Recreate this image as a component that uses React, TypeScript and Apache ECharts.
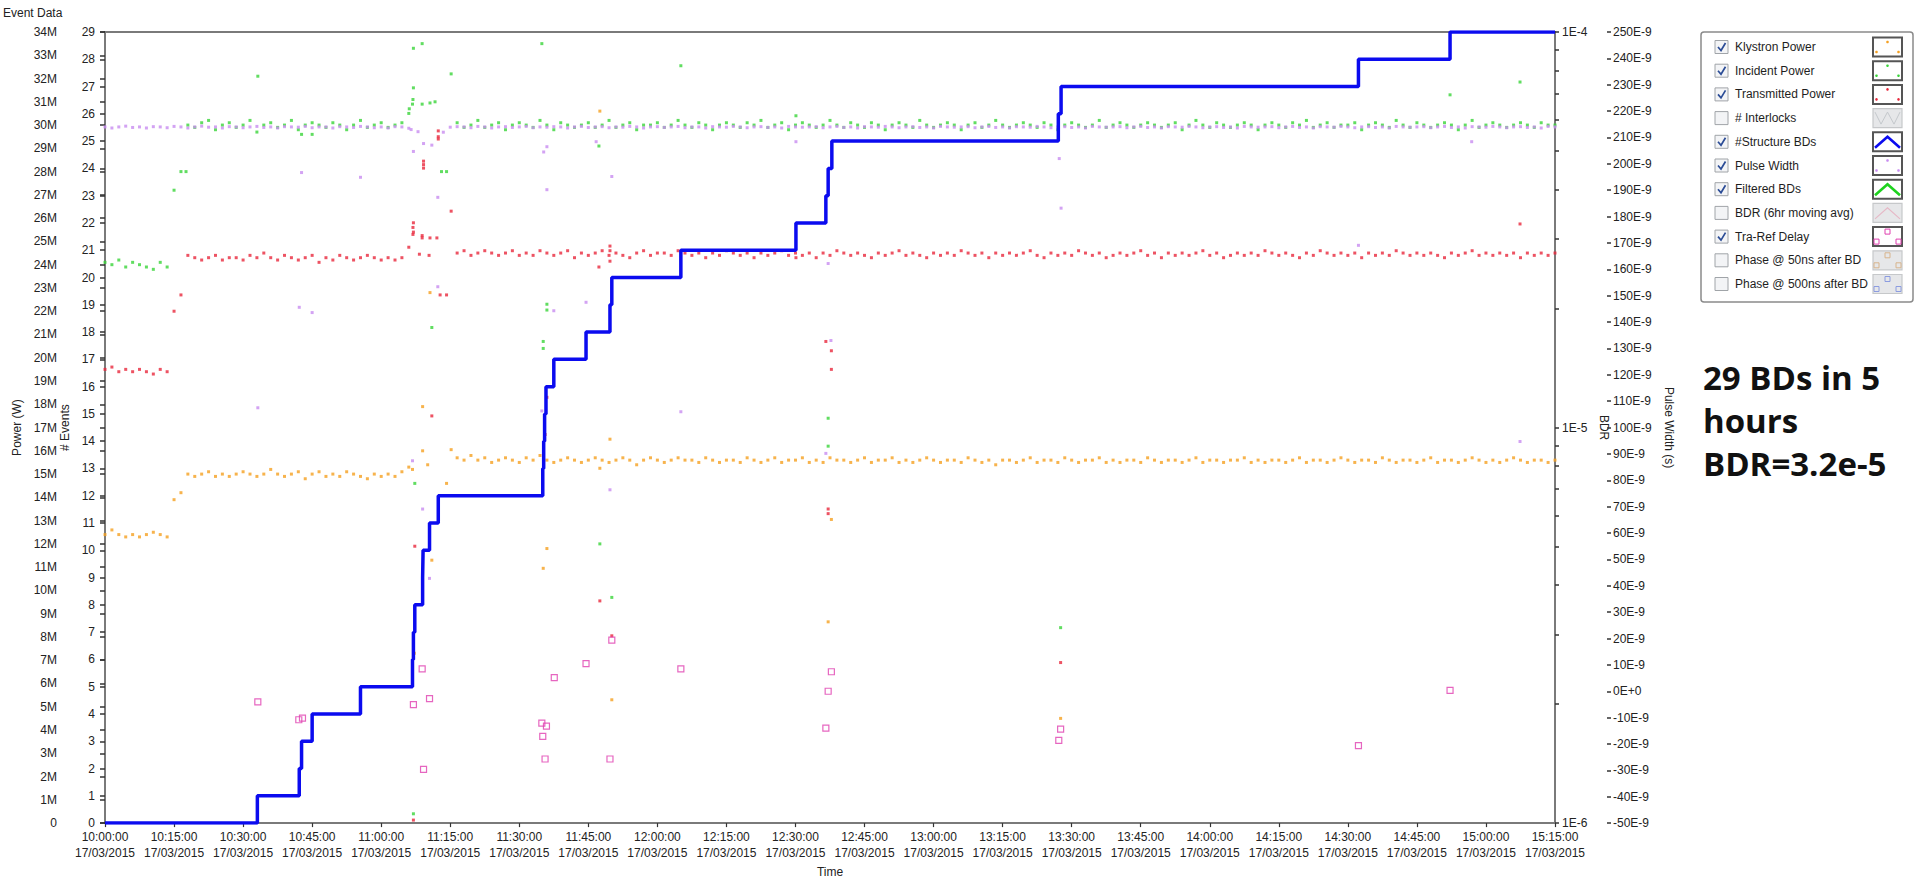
import React, { useEffect, useRef } from 'react';
import * as echarts from 'echarts';

// ---------- DATA ----------
// time in minutes after 10:00:00 on 17/03/2015; samples of the dense bands every 1.5 min
const SAMPLE_STEP_MIN = 1.5;
const X_MAX_MIN = 315;
const DATE_LABEL = '17/03/2015';

// Klystron Power (MW) bands: [start minute, values]
const klystronBands: [number, number[]][] = [
  [0, [12.4, 12.6, 12.4, 12.3, 12.4, 12.3, 12.4, 12.5, 12.4, 12.3]],
  [15, [13.9, 14.2]],
  [18, [15.0, 14.9, 15.0, 15.1, 14.9, 15.0, 14.9, 15.0, 15.1, 15.0, 14.9, 15.0, 15.2, 15.0, 14.9, 15.0,
        15.1, 14.8, 15.0, 15.1, 14.9, 15.0, 14.9, 15.1, 15.0, 14.9, 14.8, 15.0, 14.9, 15.0, 14.9, 15.1, 15.3]],
  [76.5, [
    15.7, 15.6, 15.8, 15.6, 15.7, 15.5, 15.6, 15.7, 15.6, 15.5, 15.7, 15.6, 15.8, 15.6, 15.5, 15.6, 15.7, 15.6, 15.5, 15.6,
    15.7, 15.6, 15.5, 15.6, 15.7, 15.6, 15.4, 15.6, 15.7, 15.6, 15.5, 15.6, 15.7, 15.6, 15.6, 15.5, 15.7, 15.6, 15.5, 15.6,
    15.6, 15.5, 15.7, 15.6, 15.5, 15.6, 15.7, 15.5, 15.6, 15.6, 15.7, 15.5, 15.6, 15.5, 15.7, 15.6, 15.6, 15.5, 15.6, 15.7,
    15.5, 15.6, 15.6, 15.7, 15.5, 15.6, 15.5, 15.6, 15.7, 15.6, 15.5, 15.6, 15.6, 15.5, 15.7, 15.6, 15.5, 15.6, 15.4, 15.6,
    15.6, 15.5, 15.6, 15.7, 15.5, 15.6, 15.6, 15.5, 15.7, 15.6, 15.5, 15.6, 15.6, 15.7, 15.5, 15.6, 15.5, 15.6, 15.6, 15.5,
    15.7, 15.6, 15.5, 15.6, 15.6, 15.5, 15.6, 15.7, 15.5, 15.6, 15.6, 15.5, 15.6, 15.6, 15.7, 15.5, 15.6, 15.5, 15.6, 15.6,
    15.5, 15.6, 15.7, 15.5, 15.6, 15.6, 15.5, 15.6, 15.7, 15.6, 15.5, 15.6, 15.6, 15.5, 15.7, 15.6, 15.5, 15.6, 15.6, 15.5,
    15.6, 15.7, 15.5, 15.6, 15.6, 15.5, 15.6, 15.7, 15.6, 15.5, 15.6, 15.5, 15.6, 15.7, 15.6, 15.5, 15.6, 15.6, 15.5, 15.6]],
];
const klystronOutliers: [number, number][] = [
  [66.8, 15.2], [67.2, 7.3], [69.0, 17.9], [69.0, 16.0], [70.1, 15.4], [70.6, 22.8], [71.0, 11.3], [74.2, 14.6],
  [75.2, 16.05], [95.2, 10.95], [96.0, 11.8], [107.5, 30.6], [107.5, 15.25], [109.7, 16.5], [110.1, 5.3],
  [157.1, 8.65], [157.8, 13.05], [207.6, 4.5],
];

// Incident Power (MW)
const incidentBands: [number, number[]][] = [
  [0, [24.1, 24.0, 24.2, 23.9, 24.1, 24.0, 23.9, 23.8, 24.1, 23.9]],
  [15, [27.2, 28.0]],
  [18, [30.0, 29.9, 30.1, 30.2, 29.8, 30.0, 30.1, 29.9, 30.0, 30.2, 29.7, 30.0, 30.1, 29.9, 30.0, 30.2,
        29.8, 30.0, 30.1, 30.0, 29.9, 30.1, 30.0, 29.8, 30.0, 30.2, 29.9, 30.0, 30.1, 29.9, 30.0, 30.1, 30.5]],
  [76.5, [
    30.1, 29.9, 30.0, 30.2, 29.9, 30.0, 30.1, 29.8, 30.0, 30.1, 30.0, 29.9, 30.2, 30.0, 29.8, 30.1, 30.0, 29.9, 30.0, 30.1,
    29.9, 30.0, 30.2, 29.9, 30.0, 30.1, 29.8, 30.0, 30.0, 30.1, 29.9, 30.0, 30.2, 30.0, 29.9, 30.1, 30.0, 29.8, 30.0, 30.1,
    30.0, 29.9, 30.1, 30.0, 30.2, 29.9, 30.0, 30.1, 29.8, 30.0, 30.1, 30.0, 29.9, 30.0, 30.2, 30.0, 29.9, 30.1, 30.0, 29.9,
    30.1, 30.0, 29.8, 30.0, 30.1, 30.0, 29.9, 30.2, 30.0, 29.9, 30.0, 30.1, 30.0, 29.8, 30.0, 30.1, 29.9, 30.0, 30.2, 30.0,
    29.9, 30.0, 30.1, 30.0, 29.9, 30.1, 30.0, 29.8, 30.0, 30.1, 30.0, 29.9, 30.0, 30.2, 29.9, 30.0, 30.1, 30.0, 29.9, 30.0,
    30.1, 30.0, 29.9, 30.0, 30.1, 29.8, 30.0, 30.2, 30.0, 29.9, 30.1, 30.0, 29.9, 30.0, 30.1, 30.0, 29.8, 30.0, 30.1, 30.0,
    29.9, 30.1, 30.0, 30.2, 29.9, 30.0, 30.1, 29.9, 30.0, 30.0, 30.1, 29.8, 30.0, 30.1, 30.0, 29.9, 30.2, 30.0, 29.9, 30.1,
    30.0, 29.9, 30.0, 30.1, 30.0, 29.8, 30.0, 30.2, 29.9, 30.0, 30.1, 30.0, 29.9, 30.0, 30.1, 30.0, 29.9, 30.1, 30.0, 30.0]],
];
const incidentOutliers: [number, number][] = [
  [17.6, 28.0], [33.2, 32.1], [42.7, 29.6], [45.0, 29.6], [66.1, 30.7], [66.8, 30.9], [66.9, 31.1], [67.0, 31.6],
  [67.0, 33.3], [68.9, 33.5], [68.9, 30.9], [70.6, 30.95], [71.7, 31.0], [73.1, 28.0], [74.2, 28.0], [75.2, 32.2],
  [94.9, 33.5], [96.0, 22.3], [96.0, 22.05], [107.3, 29.1], [125.1, 32.55], [150.1, 30.4], [157.1, 17.4],
  [157.1, 16.2], [107.5, 12.0], [110.1, 9.7], [71.0, 21.3], [95.2, 20.7], [95.2, 20.4], [67.3, 14.6],
  [207.6, 8.4], [67.0, 0.4], [292.2, 31.3], [307.4, 31.85],
];

// Transmitted Power (MW)
const transmittedBands: [number, number[]][] = [
  [0, [19.5, 19.6, 19.4, 19.5, 19.4, 19.5, 19.4, 19.3, 19.5, 19.4]],
  [15, [22.0, 22.7]],
  [18, [24.4, 24.3, 24.2, 24.3, 24.4, 24.2, 24.3, 24.3, 24.2, 24.4, 24.3, 24.5, 24.3, 24.2, 24.4, 24.3,
        24.2, 24.3, 24.4, 24.1, 24.3, 24.2, 24.4, 24.3, 24.2, 24.3, 24.4, 24.3, 24.2, 24.3, 24.2, 24.3, 24.75]],
  [76.5, [
    24.5, 24.6, 24.4, 24.5, 24.6, 24.5, 24.4, 24.5, 24.6, 24.4, 24.5, 24.4, 24.6, 24.5, 24.4, 24.5, 24.6, 24.3, 24.5, 24.4,
    24.5, 24.6, 24.4, 24.5, 24.4, 24.3, 24.5, 24.6, 24.4, 24.5, 24.5, 24.4, 24.6, 24.5, 24.4, 24.5, 24.3, 24.5, 24.4, 24.6,
    24.5, 24.4, 24.5, 24.3, 24.5, 24.4, 24.5, 24.6, 24.4, 24.5, 24.4, 24.5, 24.3, 24.5, 24.4, 24.6, 24.5, 24.4, 24.5, 24.4,
    24.3, 24.5, 24.4, 24.5, 24.6, 24.4, 24.5, 24.4, 24.3, 24.5, 24.4, 24.5, 24.4, 24.6, 24.5, 24.4, 24.5, 24.3, 24.5, 24.4,
    24.5, 24.4, 24.5, 24.6, 24.4, 24.3, 24.5, 24.4, 24.5, 24.4, 24.6, 24.5, 24.4, 24.5, 24.3, 24.4, 24.5, 24.4, 24.5, 24.6,
    24.4, 24.5, 24.3, 24.5, 24.4, 24.5, 24.4, 24.5, 24.6, 24.4, 24.5, 24.3, 24.4, 24.5, 24.4, 24.5, 24.4, 24.6, 24.5, 24.4,
    24.5, 24.4, 24.3, 24.5, 24.4, 24.6, 24.5, 24.4, 24.5, 24.4, 24.5, 24.3, 24.5, 24.4, 24.5, 24.4, 24.6, 24.5, 24.4, 24.5,
    24.4, 24.5, 24.4, 24.3, 24.5, 24.4, 24.5, 24.6, 24.4, 24.5, 24.4, 24.5, 24.4, 24.5, 24.3, 24.5, 24.4, 24.5, 24.4, 24.5]],
];
const transmittedOutliers: [number, number][] = [
  [67.0, 25.8], [66.9, 25.6], [67.0, 25.4], [66.9, 25.3], [68.9, 25.25], [68.9, 25.15], [70.6, 25.15], [72.1, 25.15],
  [68.3, 24.45], [70.4, 24.4], [72.4, 29.75], [72.4, 29.5], [72.4, 29.4], [69.2, 28.45], [69.2, 28.3], [69.2, 28.15],
  [75.2, 26.3], [72.8, 22.7], [74.2, 22.7], [107.3, 23.9], [109.7, 24.8], [109.7, 24.6], [109.7, 24.15],
  [150.1, 24.3], [157.8, 20.3], [157.8, 19.5], [156.6, 20.7], [157.1, 13.5], [157.1, 13.3], [107.5, 9.55],
  [110.1, 8.05], [71.0, 17.5], [67.3, 11.9], [96.0, 18.3], [95.6, 16.7], [307.4, 25.75], [207.6, 6.9], [67.0, 0.13],
];

// Pulse Width (ns, shown as E-9 s)
const pulseWidthBands: [number, number[]][] = [
  [0, [
    214.0, 213.6, 214.0, 214.3, 213.8, 214.0, 213.6, 214.1, 214.0, 213.7, 214.2, 214.0, 213.6, 214.0, 214.3, 213.9, 214.0, 213.6, 214.1, 214.0,
    213.7, 214.0, 214.2, 213.8, 214.0, 213.6, 214.1, 214.0, 213.9, 214.2, 213.7, 214.0, 214.0, 213.6, 214.1, 214.0, 213.8, 214.2, 214.0, 213.7,
    214.0, 213.6, 214.1, 214.0, 213.5]],
  [75, [
    213.9, 214.1, 214.0, 213.7, 214.2, 214.0, 213.6, 214.0, 214.1, 213.8, 214.0, 214.2, 213.7, 214.0, 213.9, 214.1, 214.0, 213.6, 214.0, 214.2,
    213.8, 214.0, 214.1, 213.7, 214.0, 213.9, 214.2, 214.0, 213.6, 214.0, 214.1, 213.8, 214.0, 214.2, 213.7, 214.0, 214.0, 213.6, 214.1, 214.0,
    213.9, 214.2, 214.0, 213.7, 214.0, 214.1, 213.8, 214.0, 213.6, 214.2, 214.0, 213.9, 214.0, 214.1, 213.7, 214.0, 214.2, 213.8, 214.0, 213.6,
    214.1, 214.0, 213.9, 214.2, 214.0, 213.7, 214.0, 214.1, 213.8, 214.0, 213.6, 214.2, 214.0, 213.9, 214.0, 214.1, 213.7, 214.0, 214.2, 213.8,
    214.0, 213.6, 214.1, 214.0, 213.9, 214.2, 214.0, 213.7, 214.0, 214.1, 213.8, 214.0, 213.6, 214.2, 214.0, 213.9, 214.0, 214.1, 213.7, 214.0,
    214.2, 213.8, 214.0, 213.6, 214.1, 214.0, 213.9, 214.2, 214.0, 213.7, 214.0, 214.1, 213.8, 214.0, 213.6, 214.2, 214.0, 213.9, 214.0, 214.1,
    213.7, 214.0, 214.2, 213.8, 214.0, 213.6, 214.1, 214.0, 213.9, 214.2, 214.0, 213.7, 214.0, 214.1, 213.8, 214.0, 213.6, 214.2, 214.0, 213.9,
    214.0, 214.1, 213.7, 214.0, 214.2, 213.8, 214.0, 213.6, 214.1, 214.0, 213.9, 214.2, 214.0, 213.7, 214.0, 214.1, 213.8, 214.0, 213.6, 214.2,
    214.0]],
];
const pulseWidthOutliers: [number, number][] = [
  [67.0, 204.7], [69.2, 207.7], [71.0, 207.1], [72.3, 187.3], [96.0, 206.5], [95.3, 204.5], [96.0, 190.2],
  [42.7, 196.7], [55.5, 194.9], [72.3, 153.4], [42.2, 145.6], [45.0, 143.6], [104.5, 147.5], [97.5, 144.3],
  [33.2, 107.5], [66.8, 87.4], [69.0, 69.1], [70.5, 42.8], [94.9, 106.3], [106.7, 208.4], [110.1, 195.2],
  [150.1, 208.4], [125.1, 106.0], [157.7, 133.0], [157.1, 162.2], [109.7, 76.4], [156.6, 90.2], [207.3, 202.0],
  [207.7, 183.2], [296.9, 208.4], [272.3, 169.1], [307.4, 94.7], [66.5, 213.0], [68.0, 212.2], [73.5, 212.0],
];

// Tra-Ref Delay (ns)
const traRefDelay: [number, number][] = [
  [33.2, -4.0], [42.1, -10.8], [42.9, -10.2], [67.0, -5.1], [68.9, 8.5], [69.2, -29.6], [70.5, -2.8],
  [94.9, -12.1], [95.1, -17.1], [95.6, -25.7], [95.9, -13.2], [97.6, 5.2], [104.5, 10.5], [109.7, -25.7],
  [110.1, 19.4], [125.1, 8.5], [156.6, -14.0], [157.1, 0.0], [157.8, 7.4], [207.2, -18.6], [207.6, -14.4],
  [272.3, -20.6], [292.2, 0.3],
];

// #Structure BDs: [minute of breakdown, cumulative count]
const structureBDs: [number, number][] = [
  [0, 0], [33.1, 1], [42.2, 2], [42.7, 3], [45.0, 4], [55.5, 5], [66.8, 6], [67.0, 7], [67.3, 8], [69.0, 9],
  [69.1, 10], [70.5, 11], [72.4, 12], [95.1, 13], [95.3, 14], [95.5, 15], [95.8, 16], [97.5, 17], [104.5, 18],
  [109.7, 19], [110.1, 20], [125.1, 21], [150.1, 22], [156.6, 23], [157.1, 24], [157.9, 25], [207.1, 26],
  [207.7, 27], [272.3, 28], [292.2, 29], [315, 29],
];

const legendNames = [
  'Klystron Power', 'Incident Power', 'Transmitted Power', '# Interlocks', '#Structure BDs', 'Pulse Width',
  'Filtered BDs', 'BDR (6hr moving avg)', 'Tra-Ref Delay', 'Phase @ 50ns after BD', 'Phase @ 500ns after BD',
];
const legendChecked = [true, true, true, false, true, true, true, false, true, false, false];
const legendIconKind = ['dots', 'dots', 'dots', 'zigzag', 'line', 'dots', 'line', 'line', 'squares', 'squares', 'squares'];

const annotationLines = ['29 BDs in 5', 'hours', 'BDR=3.2e-5'];

// ---------- STYLE ----------
const C_ORANGE = '#f5a021';
const C_GREEN = '#3ad43a';
const C_RED = '#e8283c';
const C_VIOLET = '#c88cf0';
const C_PINK = '#e040b0';
const C_BLUE = '#0b0bef';
const legendIconColor = [C_ORANGE, C_GREEN, C_RED, '#c4c8cc', C_BLUE, C_VIOLET, '#1ed21e', '#e6b8c6', C_PINK, '#d8b48c', '#8c9ce0'];
const FONT = '"Liberation Sans", Arial, sans-serif';

function expandBands(bands: [number, number[]][], outliers: [number, number][]) {
  const pts: [number, number][] = [];
  bands.forEach(([t0, vals]) => vals.forEach((v, i) => pts.push([t0 + i * SAMPLE_STEP_MIN, v])));
  return pts.concat(outliers);
}

function timeLabel(v: number) {
  const h = 10 + Math.floor(v / 60);
  const m = Math.round(v % 60);
  return `${h}:${String(m).padStart(2, '0')}:00\n${DATE_LABEL}`;
}

function buildLegend() {
  const els: any[] = [];
  const x0 = 1701, y0 = 32;
  els.push({ type: 'rect', shape: { x: x0, y: y0, width: 212, height: 270, r: 3 },
    style: { fill: '#fff', stroke: '#8a8a8a', lineWidth: 1.5 }, z: 10 });
  legendNames.forEach((name, i) => {
    const c = 47 + i * 23.7;
    const checked = legendChecked[i];
    const col = legendIconColor[i];
    els.push({ type: 'rect', shape: { x: 1715, y: c - 6.5, width: 13, height: 13 },
      style: { fill: '#f3f4f6', stroke: '#a0a4a8', lineWidth: 1 }, z: 11 });
    if (checked) {
      els.push({ type: 'polyline', shape: { points: [[1718, c], [1721, c + 3.5], [1725.5, c - 4]] },
        style: { stroke: '#2b4c96', lineWidth: 1.7, fill: null }, z: 12 });
    }
    els.push({ type: 'text', x: 1735, y: c, style: { text: name, font: `12px ${FONT}`, fill: '#1e1e1e',
      textVerticalAlign: 'middle', verticalAlign: 'middle' }, z: 11 });
    const ix = 1873, iy = c - 9.5;
    els.push({ type: 'rect', shape: { x: ix, y: iy, width: 29, height: 19 },
      style: { fill: checked ? '#fff' : '#e6e7e9', stroke: checked ? '#555' : '#c6c8ca', lineWidth: checked ? 2 : 1.2 }, z: 11 });
    const kind = legendIconKind[i];
    const pts = [[ix + 14.5, c - 5], [ix + 3.5, c + 5], [ix + 25.5, c + 5]];
    if (kind === 'dots') {
      pts.forEach(([px, py]) => els.push({ type: 'circle', shape: { cx: px, cy: py, r: 1.3 }, style: { fill: col }, z: 12 }));
    } else if (kind === 'squares') {
      pts.forEach(([px, py]) => els.push({ type: 'rect', shape: { x: px - 2.5, y: py - 2.5, width: 5, height: 5 },
        style: { fill: null, stroke: col, lineWidth: 1 }, z: 12 }));
    } else if (kind === 'line') {
      els.push({ type: 'polyline', shape: { points: [[ix + 2, c + 6], [ix + 14.5, c - 5], [ix + 27, c + 6]] },
        style: { stroke: col, lineWidth: checked ? 2.6 : 1.2, fill: null }, z: 12 });
    } else {
      els.push({ type: 'polyline', shape: { points: [[ix + 2, c - 6], [ix + 8, c + 6], [ix + 14.5, c - 6], [ix + 21, c + 6], [ix + 27, c - 6]] },
        style: { stroke: col, lineWidth: 1, fill: null }, z: 12 });
    }
  });
  return els;
}

function buildOption() {
  const bdrMinorTicks: number[] = [];
  [-6, -5].forEach((e) => {
    bdrMinorTicks.push(e);
    for (let k = 2; k <= 9; k++) bdrMinorTicks.push(e + Math.log10(k));
  });
  bdrMinorTicks.push(-4);

  const tickStyle = { show: true, length: 5, lineStyle: { color: '#333', width: 1.5 } };
  const hiddenLine = { show: true, lineStyle: { color: 'rgba(0,0,0,0)', width: 0 } };
  const labelStyle = { color: '#222', fontSize: 12, fontFamily: FONT };
  const nameStyle = { color: '#222', fontSize: 12, fontFamily: FONT };

  const scatterBase = { type: 'scatter', symbol: 'rect', symbolSize: 3, silent: true };

  const annotation = annotationLines.map((t, i) => ({
    type: 'text', x: 1703, y: 377 + i * 43,
    style: { text: t, font: `bold 33px "Open Sans", "Liberation Sans", sans-serif`, fill: '#111',
      textVerticalAlign: 'middle', verticalAlign: 'middle' }, z: 10,
  }));

  return {
    animation: false,
    backgroundColor: '#ffffff',
    textStyle: { fontFamily: FONT },
    grid: { left: 105, right: 360, top: 32, bottom: 55, show: true, borderColor: '#7a7a7a', borderWidth: 2, containLabel: false },
    xAxis: {
      type: 'value', min: 0, max: X_MAX_MIN, interval: 15,
      name: 'Time', nameLocation: 'middle', nameGap: 42, nameTextStyle: nameStyle,
      axisLine: { show: true, lineStyle: { color: '#7a7a7a', width: 2 } },
      axisTick: { show: true, length: 4, lineStyle: { color: '#333', width: 1.2 } },
      axisLabel: { ...labelStyle, margin: 6, lineHeight: 16, formatter: timeLabel, showMaxLabel: true, showMinLabel: true },
      splitLine: { show: false },
    },
    yAxis: [
      {
        type: 'value', position: 'left', offset: 40, min: 0, max: 34, interval: 1,
        name: 'Power (W)', nameLocation: 'middle', nameGap: 34, nameRotate: 90, nameTextStyle: nameStyle,
        axisLine: hiddenLine, axisTick: tickStyle,
        axisLabel: { ...labelStyle, margin: 8, formatter: (v: number) => (v === 0 ? '0' : `${v}M`) },
        splitLine: { show: false },
      },
      {
        type: 'value', position: 'left', offset: 0, min: 0, max: 29, interval: 1,
        name: '# Events', nameLocation: 'middle', nameGap: 25, nameRotate: 90, nameTextStyle: nameStyle,
        axisLine: hiddenLine, axisTick: tickStyle,
        axisLabel: { ...labelStyle, margin: 10 },
        splitLine: { show: false },
      },
      {
        type: 'value', position: 'right', offset: 0, min: -6, max: -4, interval: 1,
        name: 'BDR', nameLocation: 'middle', nameGap: 37, nameRotate: -90, nameTextStyle: nameStyle,
        axisLine: hiddenLine,
        axisTick: { show: true, length: 4, lineStyle: { color: '#333', width: 1.5 }, customValues: bdrMinorTicks },
        axisLabel: { ...labelStyle, margin: 7, formatter: (v: number) => `1E${v}` },
        splitLine: { show: false },
      },
      {
        type: 'value', position: 'right', offset: 52, min: -50, max: 250, interval: 10,
        name: 'Pulse Width (s)', nameLocation: 'middle', nameGap: 51, nameRotate: -90, nameTextStyle: nameStyle,
        axisLine: hiddenLine, axisTick: { ...tickStyle, length: 4 },
        axisLabel: { ...labelStyle, margin: 6, formatter: (v: number) => (v === 0 ? '0E+0' : `${v}E-9`) },
        splitLine: { show: false },
      },
    ],
    series: [
      { ...scatterBase, name: 'Klystron Power', yAxisIndex: 0, itemStyle: { color: C_ORANGE }, data: expandBands(klystronBands, klystronOutliers) },
      { ...scatterBase, name: 'Incident Power', yAxisIndex: 0, itemStyle: { color: C_GREEN }, data: expandBands(incidentBands, incidentOutliers) },
      { ...scatterBase, name: 'Transmitted Power', yAxisIndex: 0, itemStyle: { color: C_RED }, data: expandBands(transmittedBands, transmittedOutliers) },
      { ...scatterBase, name: 'Pulse Width', yAxisIndex: 3, itemStyle: { color: C_VIOLET }, data: expandBands(pulseWidthBands, pulseWidthOutliers) },
      { type: 'scatter', name: 'Tra-Ref Delay', yAxisIndex: 3, symbol: 'rect', symbolSize: 6, silent: true,
        itemStyle: { color: 'rgba(255,255,255,0)', borderColor: C_PINK, borderWidth: 1.2 }, data: traRefDelay },
      { type: 'line', name: '#Structure BDs', yAxisIndex: 1, step: 'end', symbol: 'none', silent: true, z: 5,
        lineStyle: { color: C_BLUE, width: 3.5 }, data: structureBDs },
    ],
    graphic: [
      { type: 'text', x: 3, y: 13, style: { text: 'Event Data', font: `12px ${FONT}`, fill: '#222',
        textVerticalAlign: 'middle', verticalAlign: 'middle' } },
      ...buildLegend(),
      ...annotation,
    ],
  };
}

export default function App() {
  const ref = useRef<HTMLDivElement>(null);
  useEffect(() => {
    if (!ref.current) return;
    const chart = echarts.init(ref.current, null, { renderer: 'svg' });
    chart.setOption(buildOption() as any);
    return () => chart.dispose();
  }, []);
  return (
    <div ref={ref} style={{ position: 'fixed', left: 0, top: 0, width: 1915, height: 883, background: '#fff' }} />
  );
}
